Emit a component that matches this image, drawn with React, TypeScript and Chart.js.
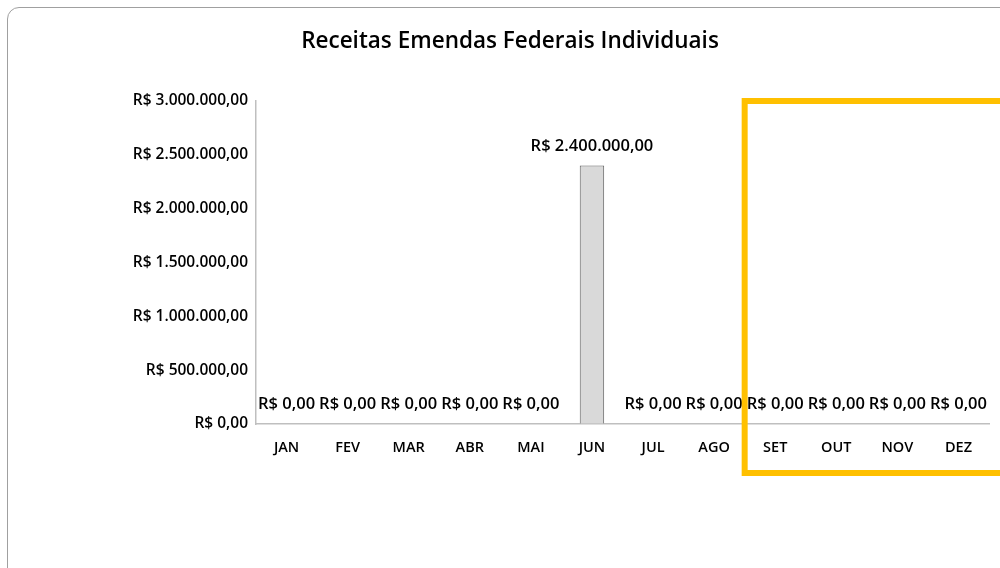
import React, { useEffect, useRef } from "react";
import { Chart, registerables } from "chart.js";

Chart.register(...registerables);

const TITLE = "Receitas Emendas Federais Individuais";
const MONTHS = ["JAN", "FEV", "MAR", "ABR", "MAI", "JUN", "JUL", "AGO", "SET", "OUT", "NOV", "DEZ"];
const VALUES = [0, 0, 0, 0, 0, 2400000, 0, 0, 0, 0, 0, 0];
const Y_MIN = 0;
const Y_MAX = 3000000;
const Y_STEP = 500000;
const HIGHLIGHT_FROM = 8; // SET
const FONT = "'Open Sans'";

function brl(v: number): string {
  const neg = v < 0;
  const abs = Math.abs(v);
  const intPart = Math.floor(abs);
  const cents = Math.round((abs - intPart) * 100);
  const s = String(intPart).replace(/\B(?=(\d{3})+(?!\d))/g, ".");
  return (neg ? "-" : "") + "R$ " + s + "," + String(cents).padStart(2, "0");
}

const dataLabels = {
  id: "dataLabels",
  afterDatasetsDraw(chart: any) {
    const ctx = chart.ctx;
    const meta = chart.getDatasetMeta(0);
    ctx.save();
    ctx.font = `600 16.5px ${FONT}`;
    ctx.fillStyle = "#000";
    ctx.textAlign = "center";
    ctx.textBaseline = "alphabetic";
    meta.data.forEach((el: any, i: number) => {
      ctx.fillText(brl(VALUES[i]), el.x, el.y - 15);
    });
    ctx.restore();
  },
};

const highlight = {
  id: "highlight",
  afterDraw(chart: any) {
    const x = chart.scales.x;
    const area = chart.chartArea;
    const left = (x.getPixelForValue(HIGHLIGHT_FROM - 1) + x.getPixelForValue(HIGHLIGHT_FROM)) / 2;
    const ctx = chart.ctx;
    ctx.save();
    ctx.strokeStyle = "#FFC000";
    ctx.lineWidth = 6;
    ctx.strokeRect(left, area.top, chart.width + 50 - left, area.bottom + 49 - area.top);
    ctx.restore();
  },
};

export default function App() {
  const ref = useRef<HTMLCanvasElement | null>(null);
  useEffect(() => {
    document.body.style.margin = "0";
    document.body.style.overflow = "hidden";
    const chart = new Chart(ref.current as HTMLCanvasElement, {
      type: "bar",
      data: {
        labels: MONTHS,
        datasets: [
          {
            data: VALUES,
            backgroundColor: "#d9d9d9",
            borderColor: "#5f5f5f",
            borderWidth: (c: any) => (c.raw ? 1 : 0),
            barPercentage: 0.4,
            categoryPercentage: 1,
          },
        ],
      },
      options: {
        responsive: false,
        animation: false,
        layout: { padding: { left: 31, right: 11, top: 0, bottom: 104 } },
        plugins: {
          legend: { display: false },
          tooltip: { enabled: false },
          title: {
            display: true,
            text: TITLE,
            color: "#000",
            font: { family: FONT, size: 22.5, weight: "600", lineHeight: 1.2 },
            padding: { top: 28, bottom: 46 },
          },
        },
        scales: {
          x: {
            grid: { display: true, drawOnChartArea: false, drawTicks: false },
            border: { display: true, color: "#bfbfbf", width: 1.5 },
            ticks: { color: "#000", font: { family: FONT, size: 14.5, weight: "600" }, padding: 15, maxRotation: 0 },
            afterFit: (s: any) => {
              s.height = 40;
            },
          },
          y: {
            min: Y_MIN,
            max: Y_MAX,
            grid: { display: true, drawOnChartArea: false, drawTicks: false },
            border: { display: true, color: "#bfbfbf", width: 1.5 },
            ticks: {
              stepSize: Y_STEP,
              color: "#000",
              font: { family: FONT, size: 15.5, weight: "600" },
              padding: 8,
              callback: (v: any) => brl(Number(v)),
            },
            afterFit: (s: any) => {
              s.width = 225;
            },
          },
        },
      },
      plugins: [dataLabels, highlight],
    } as any);
    return () => chart.destroy();
  }, []);

  return (
    <div style={{ position: "fixed", left: 0, top: 0, width: 1000, height: 568, overflow: "hidden", background: "#fff" }}>
      <div
        style={{
          position: "absolute",
          left: 7,
          top: 7,
          width: 1100,
          height: 700,
          border: "1px solid #a0a0a0",
          borderRadius: 12,
        }}
      />
      <canvas ref={ref} width={1000} height={568} style={{ position: "absolute", left: 0, top: 0, width: 1000, height: 568 }} />
    </div>
  );
}
